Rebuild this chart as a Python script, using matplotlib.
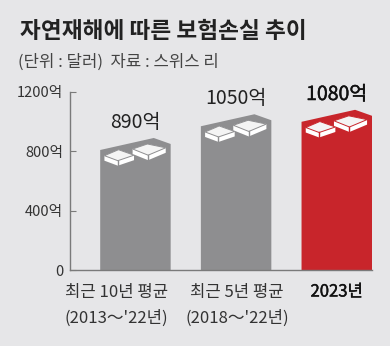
import numpy as np
import matplotlib.pyplot as plt
import matplotlib.patheffects as pe
from matplotlib.patches import Polygon
from matplotlib.transforms import blended_transform_factory

plt.rcParams['font.family'] = ['Noto Sans CJK KR', 'DejaVu Sans']

title = '자연재해에 따른 보험손실 추이'
subtitle = '(단위 : 달러)  자료 : 스위스 리'
labels_top = ['최근 10년 평균', '최근 5년 평균', '2023년']
labels_sub = ["(2013～'22년)", "(2018～'22년)", '']
values = [890, 1050, 1080]
yticks = [0, 400, 800, 1200]
ytick_labels = ['0', '400억', '800억', '1200억']

bg = '#e6e6e8'
bar_colors = ['#8e8e90', '#8e8e90', '#c8252b']
label_shift = [-0.19, 0.01, 0.0]   # x-label offsets from bar centres
ppx = 1200 / 178   # data units per pixel
w = 0.7
heavy = [pe.withStroke(linewidth=0.3, foreground='#111')]

fig = plt.figure(figsize=(3.9, 3.46), dpi=100, facecolor=bg)
ax = fig.add_axes([70 / 390, 76 / 346, 302 / 390, 178 / 346])
ax.set_facecolor(bg)
ax.set_xlim(-0.65, 2.35)
ax.set_ylim(0, 1200)

# bricks on top: (fraction across bar, pixels below the peak)
bricks = [
    [(0.06, 17.7), (0.26, 11.7), (0.48, 17.2), (0.25, 22.7)],
    [(0.46, 11), (0.67, 6), (0.93, 9.8), (0.68, 17.2)],
]
thick = 5

for i, (v, c) in enumerate(zip(values, bar_colors)):
    x0, x1 = i - w / 2, i + w / 2
    xp = x0 + 0.76 * w
    shape = [(x0, 0), (x0, v - 12 * ppx), (xp, v), (x1, v - 6 * ppx), (x1, 0)]
    ax.add_patch(Polygon(shape, closed=True, facecolor=c, edgecolor='none'))
    for b in bricks:
        pts = [(x0 + u * w, v - d * ppx) for u, d in b]
        L, B, R, F = pts
        dt = thick * ppx
        sil = [L, B, R, (R[0], R[1] - dt), (F[0], F[1] - dt), (L[0], L[1] - dt)]
        ax.add_patch(Polygon(sil, closed=True, facecolor='white', edgecolor='none'))
        ax.add_patch(Polygon([L, B, R, F], closed=True, facecolor='#f4f4f4',
                             edgecolor=c, linewidth=0.7))
        ax.plot([F[0], F[0]], [F[1], F[1] - dt], color=c, lw=1.0)
    last = i == 2
    ax.annotate(f'{v}억', (i, v), xytext=(0, 11), textcoords='offset points',
                ha='center', va='center', fontsize=14,
                color='#111' if last else '#222',
                path_effects=heavy if last else None)

for s in ['top', 'right']:
    ax.spines[s].set_visible(False)
for s in ['left', 'bottom']:
    ax.spines[s].set_color('#7a7a7a')
    ax.spines[s].set_linewidth(1)

ax.set_yticks(yticks)
ax.set_yticklabels(ytick_labels, fontsize=10.5, color='#333')
ax.tick_params(axis='y', direction='in', length=4, color='#7a7a7a', pad=5)
ax.set_xticks([])

tr = blended_transform_factory(ax.transData, fig.transFigure)
for i, (t1, t2) in enumerate(zip(labels_top, labels_sub)):
    last = i == 2
    xi = i + label_shift[i]
    ax.text(xi, 1 - 292 / 346, t1, transform=tr, ha='center', va='center',
            fontsize=12, color='#111' if last else '#333',
            path_effects=heavy if last else None)
    if t2:
        ax.text(xi, 1 - 318 / 346, t2, transform=tr, ha='center', va='center',
                fontsize=12, color='#333')

fig.text(20 / 390, 1 - 32 / 346, title, ha='left', va='center',
         fontsize=16.3, fontweight='bold', color='#222')
fig.text(18 / 390, 1 - 62 / 346, subtitle, ha='left', va='center',
         fontsize=12, color='#444')

fig.savefig('out.png', dpi=100, facecolor=bg)
